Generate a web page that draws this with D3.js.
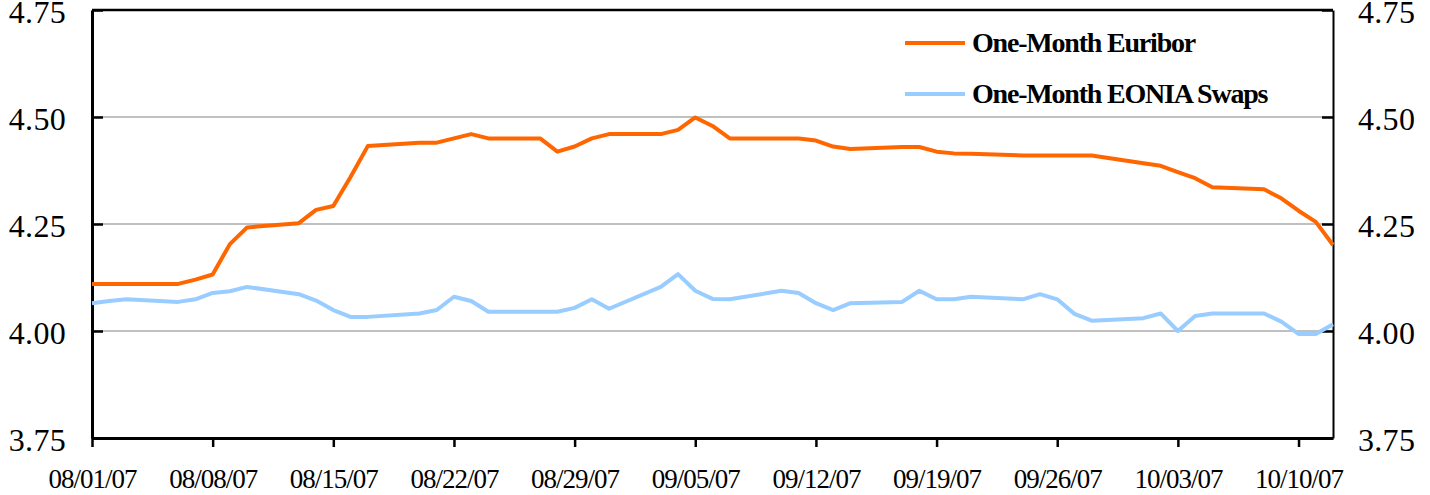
<!DOCTYPE html>
<html>
<head>
<meta charset="utf-8">
<script src="https://cdn.jsdelivr.net/npm/d3@7"></script>
<style>
    body { margin: 0; background: #fff; }
    #chart { width: 1430px; height: 495px; }
</style>
</head>
<body>
<div id="chart"></div>
<script>
// business days, Aug 1 - Oct 12 2007
const dates = [
    "08/01/07", "08/02/07", "08/03/07", "08/06/07", "08/07/07", "08/08/07", "08/09/07", "08/10/07",
    "08/13/07", "08/14/07", "08/15/07", "08/16/07", "08/17/07", "08/20/07", "08/21/07", "08/22/07",
    "08/23/07", "08/24/07", "08/27/07", "08/28/07", "08/29/07", "08/30/07", "08/31/07",
    "09/03/07", "09/04/07", "09/05/07", "09/06/07", "09/07/07", "09/10/07", "09/11/07", "09/12/07",
    "09/13/07", "09/14/07", "09/17/07", "09/18/07", "09/19/07", "09/20/07", "09/21/07", "09/24/07",
    "09/25/07", "09/26/07", "09/27/07", "09/28/07",
    "10/01/07", "10/02/07", "10/03/07", "10/04/07", "10/05/07", "10/08/07", "10/09/07", "10/10/07",
    "10/11/07", "10/12/07"
];

const euribor = [
    4.11, 4.11, 4.11, 4.11, 4.12, 4.132, 4.203, 4.242, 4.252, 4.283, 4.292, 4.36, 4.432, 4.44, 4.44, 4.45,
    4.46, 4.45, 4.45, 4.419, 4.431, 4.45, 4.46,
    4.46, 4.47, 4.499, 4.479, 4.45, 4.45, 4.45, 4.445, 4.431, 4.425, 4.43, 4.43, 4.419, 4.415, 4.414, 4.41,
    4.41, 4.41, 4.41, 4.41,
    4.392, 4.386, 4.371, 4.357, 4.336, 4.331, 4.31, 4.281, 4.255, 4.201
];

const eonia = [
    4.065, 4.07, 4.074, 4.068, 4.074, 4.089, 4.093, 4.103, 4.086, 4.071, 4.049, 4.033, 4.033, 4.041, 4.049, 4.08,
    4.07, 4.045, 4.045, 4.045, 4.054, 4.074, 4.052,
    4.103, 4.133, 4.094, 4.075, 4.074, 4.094, 4.089, 4.065, 4.049, 4.065, 4.068, 4.094, 4.074, 4.074, 4.08, 4.074,
    4.086, 4.074, 4.04, 4.024,
    4.03, 4.041, 4.0, 4.035, 4.041, 4.041, 4.022, 3.993, 3.993, 4.016
];

const xTickLabels = ["08/01/07", "08/08/07", "08/15/07", "08/22/07", "08/29/07", "09/05/07",
    "09/12/07", "09/19/07", "09/26/07", "10/03/07", "10/10/07"];
const yTicks = [3.75, 4.00, 4.25, 4.50, 4.75];
const seriesNames = ["One-Month Euribor", "One-Month EONIA Swaps"];
const seriesColors = ["#FF6600", "#99CCFF"];

const parseDate = d3.timeParse("%m/%d/%y");
const fmtDate = d3.timeFormat("%m/%d/%y");

let margin = {top: 10, right: 97, bottom: 57, left: 92};
let width = 1430 - margin.left - margin.right;
let height = 495 - margin.top - margin.bottom;

let svg = d3.select("#chart").append("svg")
    .attr("width", 1430)
    .attr("height", 495)
    .append("g")
    .attr("transform", `translate(${margin.left},${margin.top})`);

let x = d3.scaleTime()
    .domain([parseDate(dates[0]), parseDate(dates[dates.length - 1])])
    .range([0, width]);

let y = d3.scaleLinear()
    .domain([3.75, 4.75])
    .range([height, 0]);

// gridlines
svg.selectAll(".grid")
    .data(yTicks.slice(1, -1))
    .enter().append("line")
    .attr("class", "grid")
    .attr("x1", 0).attr("x2", width)
    .attr("y1", d => y(d)).attr("y2", d => y(d))
    .style("stroke", "#c0c0c0")
    .style("stroke-width", 2);

// top border
svg.append("line")
    .attr("x1", 0).attr("x2", width)
    .attr("y1", y(4.75)).attr("y2", y(4.75))
    .style("stroke", "#000")
    .style("stroke-width", 2.5);

let font = "'Liberation Serif', 'Times New Roman', serif";

let leftAxis = svg.append("g")
    .call(d3.axisLeft(y).tickValues(yTicks).tickFormat(d3.format(".2f"))
        .tickSize(-11).tickSizeOuter(0).tickPadding(26));

let rightAxis = svg.append("g")
    .attr("transform", `translate(${width},0)`)
    .call(d3.axisRight(y).tickValues(yTicks).tickFormat(d3.format(".2f"))
        .tickSize(-11).tickSizeOuter(0).tickPadding(25));

let bottomAxis = svg.append("g")
    .attr("transform", `translate(0,${height})`)
    .call(d3.axisBottom(x).tickValues(xTickLabels.map(parseDate)).tickFormat(fmtDate)
        .tickSize(9).tickSizeOuter(0).tickPadding(22));

[leftAxis, rightAxis].forEach(a => {
    a.selectAll("text")
        .style("font-family", font)
        .style("font-size", "32px")
        .style("letter-spacing", "0.3px")
        .attr("dy", "0.39em")
        .style("fill", "#000");
    a.selectAll(".tick line").style("stroke", "#000").style("stroke-width", 2.5);
});
leftAxis.select(".domain").style("stroke-width", 3);
rightAxis.select(".domain").style("stroke-width", 2);

bottomAxis.selectAll("text")
    .style("font-family", font)
    .style("font-size", "27px")
    .style("letter-spacing", "-1px")
    .style("fill", "#000");
bottomAxis.selectAll(".tick line").style("stroke", "#000").style("stroke-width", 2.5);
bottomAxis.select(".domain").style("stroke-width", 3);

// lines
let line = d3.line()
    .x(d => x(d.date))
    .y(d => y(d.value));

let series = [euribor, eonia].map((vals, i) => ({
    name: seriesNames[i],
    color: seriesColors[i],
    values: vals.map((v, j) => ({date: parseDate(dates[j]), value: v}))
}));

svg.selectAll(".series")
    .data(series.slice().reverse())
    .enter().append("path")
    .attr("class", "series")
    .attr("d", d => line(d.values))
    .style("fill", "none")
    .style("stroke", d => d.color)
    .style("stroke-width", 4)
    .style("stroke-linejoin", "round");

// legend
let legend = svg.selectAll(".legend")
    .data(series)
    .enter().append("g")
    .attr("class", "legend")
    .attr("transform", (d, i) => `translate(${905 - margin.left},${43 - margin.top + i * 51})`);

legend.append("line")
    .attr("x1", 0).attr("x2", 60)
    .style("stroke", d => d.color)
    .style("stroke-width", 4);

legend.append("text")
    .attr("x", 67)
    .attr("y", 9)
    .style("font-family", font)
    .style("font-weight", "bold")
    .style("font-size", "28px")
    .style("letter-spacing", "-1.2px")
    .text(d => d.name);
</script>
</body>
</html>
